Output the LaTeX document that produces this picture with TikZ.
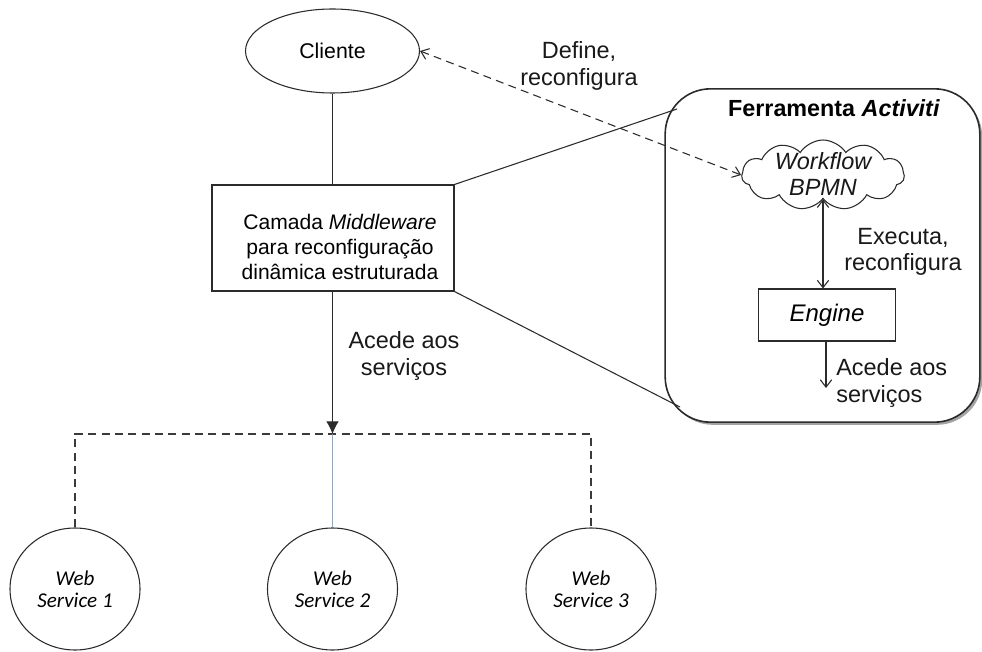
\documentclass[tikz,border=0pt]{standalone}
\usepackage{fontspec}
\setmainfont{Liberation Sans}
\newfontfamily\calib{Carlito}
\usetikzlibrary{shapes.geometric,shapes.symbols,arrows.meta,shadows}
\definecolor{ink}{HTML}{2B2B2B}
\definecolor{dashgray}{HTML}{3A3A3A}
\definecolor{linkblue}{HTML}{86A8D6}
\begin{document}
\begin{tikzpicture}[x=0.75pt,y=-0.75pt,
  conn/.style={draw=ink, line width=0.8pt},
  lbl/.style={font=\fontsize{17.6}{20}\selectfont, align=center, inner sep=0pt, text=black!90},
  wsnode/.style={ellipse, draw=ink, line width=0.8pt, minimum width=97.5pt, minimum height=91.5pt,
    inner sep=0pt, align=center, font=\calib\itshape\fontsize{15.8}{16.2}\selectfont},
  barb/.style={-{Straight Barb[length=5.5pt,width=8.5pt]}},
  twobarb/.style={{Straight Barb[length=5.5pt,width=8.5pt]}-{Straight Barb[length=5.5pt,width=8.5pt]}},
]
\useasboundingbox (0,0) rectangle (982,652);

% client and middleware layer
\node[ellipse, draw=ink, line width=0.8pt, minimum width=130.5pt, minimum height=63pt, inner sep=0pt,
      font=\fontsize{16}{19}\selectfont] (cli) at (332.5,51) {Cliente};
\node[rectangle, draw=ink, line width=0.8pt, minimum width=181.5pt, minimum height=79.5pt] (mw) at (333,238) {};
\node[align=center, inner sep=0pt, font=\fontsize{15.8}{19}\selectfont] (mwtxt) at (340,247)
  {Camada \textit{Middleware}\\para reconfiguração\\dinâmica estruturada};
\draw[conn] (cli.south) -- (cli.south |- mw.north);

% web services
\node[wsnode] (ws1) at (75,589) {Web\\Service 1};
\node[wsnode] (ws2) at (332.5,589) {Web\\Service 2};
\node[wsnode] (ws3) at (591,589) {Web\\Service 3};
\coordinate (hub) at (332.5,434);
\draw[conn, -{Latex[length=9.5pt,width=9.5pt]}] (mw.south -| hub) -- (hub);
\draw[draw=dashgray, line width=1pt, dash pattern=on 6pt off 4pt] (ws1.north) |- (hub) -| (ws3.north);
\draw[draw=linkblue, line width=0.7pt] (hub) -- (ws2.north);
\node[lbl] (acc1) at (404,356) {Acede aos\\serviços};

% Activiti tool panel
\node[rectangle, rounded corners=34pt, draw=ink, line width=1.2pt, fill=white,
      minimum width=236pt, minimum height=250pt,
      drop shadow={shadow xshift=1.8pt, shadow yshift=-2pt, fill=black!60, opacity=0.6}] (act) at (822.5,255.5) {};
\node[font=\bfseries\fontsize{17.5}{20}\selectfont, inner sep=0pt] (acttitle) at (834,108) {Ferramenta \textit{Activiti}};
\coordinate (zoomtop) at (677,109);
\coordinate (zoombot) at (680,407);
\draw[conn] (mw.north east) -- (zoomtop);
\draw[conn] (mw.south east) -- (zoombot);

\node[cloud, cloud puffs=11, cloud puff arc=115, aspect=2.3, draw=ink, line width=0.8pt,
      minimum width=122pt, minimum height=52.5pt, inner sep=0pt] (wf) at (823,175) {};
\node[lbl, font=\itshape\fontsize{17.6}{20}\selectfont] (wftxt) at (823,174) {Workflow\\BPMN};
\node[rectangle, draw=ink, line width=0.8pt, minimum width=103pt, minimum height=39pt,
      font=\itshape\fontsize{18}{20}\selectfont] (eng) at (827,315) {Engine};
\draw[conn, twobarb] (wf.south) -- (wf.south |- eng.north);
\coordinate (engout) at (826,388);
\draw[conn, barb] (eng.south -| engout) -- (engout);
\node[lbl] (exe) at (903,252) {Executa,\\reconfigura};
\node[lbl, align=left, anchor=west] (acc2) at (836,383) {Acede aos\\serviços};

% client <-> workflow definition link
\draw[draw=ink, line width=0.8pt, dash pattern=on 6pt off 4pt, twobarb] (cli.east) -- (wf.west);
\node[lbl] (def) at (579,66) {Define,\\reconfigura};
\end{tikzpicture}
\end{document}
